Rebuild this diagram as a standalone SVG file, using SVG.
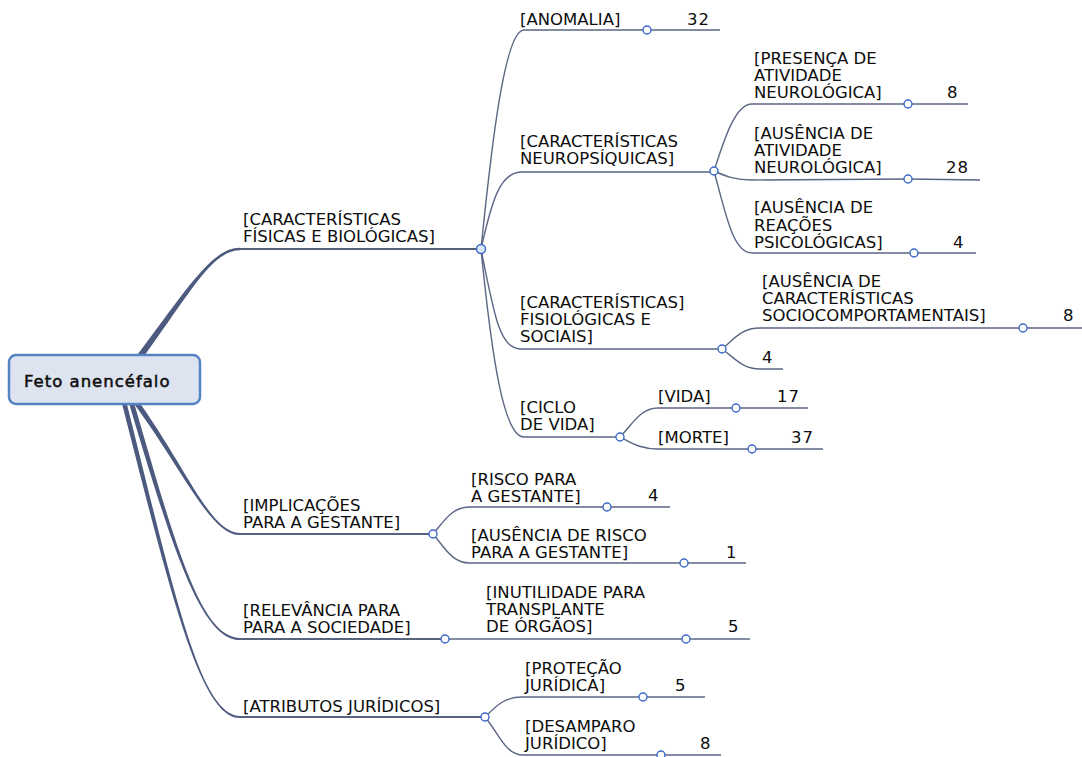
<svg xmlns="http://www.w3.org/2000/svg" width="1082" height="757" viewBox="0 0 1082 757">
<style>
text{font-family:"DejaVu Sans","Liberation Sans",sans-serif;font-size:16.5px;fill:#0d0d0d}
.ln{fill:none;stroke:#5b6684;stroke-width:1.4}
.hl{fill:none;stroke:#56627f;stroke-width:2.2}
.tp{fill:#4d5a80;stroke:none}
.dot{fill:#fff;stroke:#3b68c9;stroke-width:1.4}
.num{letter-spacing:1px}
</style>
<rect width="1082" height="757" fill="#fff"/>
<g id="connectors">
<path class="tp" d="M133.4,360.2 C187.6,288.2 212,247.6 240,247.7 L240,250.3 C212,250.4 191.4,291 138.6,363.8 Z"/>
<path class="tp" d="M135.1,396.5 C187.6,468.8 210,532.9 240,532.9 L240,535.1 C210,535.1 184.4,471.2 130.9,399.5 Z"/>
<path class="tp" d="M132.4,397.3 C174.5,541.3 200,637.9 240,637.9 L240,640.1 C200,640.1 170.7,542.5 127.6,398.7 Z"/>
<path class="tp" d="M125.3,397.4 C173.8,591.5 200,715.9 240,715.9 L240,718.1 C200,718.1 170.2,592.5 120.7,398.6 Z"/>
<path class="hl" d="M239,249 L481,249"/>
<path class="hl" d="M239,534 L433,534"/>
<path class="hl" d="M239,639 L445,639"/>
<path class="hl" d="M239,717 L485,717"/>
<path class="ln" d="M481,249 C492,140 505,30 524,30 L720,30"/>
<path class="ln" d="M481,249 C492,200 500,172 522,172 L714,172"/>
<path class="ln" d="M481,249 C495,320 500,349 522,349 L722,349"/>
<path class="ln" d="M481,249 C492,360 504,437 524,437 L620,437"/>
<path class="ln" d="M714,171 C724,140 735,104 752,104 L968,104"/>
<path class="ln" d="M714,171 C725,176 735,180 752,180 L908,179 L980,180"/>
<path class="ln" d="M714,171 C726,215 733,253 752,253 L976,253"/>
<path class="ln" d="M722,349 C735,338 742,328 760,328 L1082,328"/>
<path class="ln" d="M722,349 C735,358 742,369 760,369 L783,369"/>
<path class="ln" d="M620,437 C632,425 640,408 658,408 L808,408"/>
<path class="ln" d="M620,437 C632,443 640,449 658,449 L823,449"/>
<path class="ln" d="M433,534 C445,520 452,507 470,507 L670,507"/>
<path class="ln" d="M433,534 C445,548 452,563 470,563 L746,563"/>
<path class="ln" d="M445,639 L750,639"/>
<path class="ln" d="M485,717 C497,705 505,697 522,697 L705,697"/>
<path class="ln" d="M485,717 C500,735 505,755 524,755 L721,755"/>
</g>
<g id="root">
<rect x="9" y="355" width="191" height="49" rx="7" fill="#dde4ef" stroke="#5583c4" stroke-width="2.5"/>
<text x="24" y="387" style="letter-spacing:1px" stroke="#0d0d0d" stroke-width="0.5">Feto anencéfalo</text>
</g>
<g id="n-fisicas">
<text x="243" y="225"><tspan x="243">[CARACTERÍSTICAS</tspan><tspan x="243" dy="16.5">FÍSICAS E BIOLÓGICAS]</tspan></text>
<circle cx="481" cy="249" r="4.5" fill="#dbe6f8" stroke="#3b68c9" stroke-width="1.4"/>
</g>
<g id="n-anomalia">
<text x="520" y="25">[ANOMALIA]</text>
<circle class="dot" cx="647" cy="30" r="4"/>
<text class="num" x="687" y="25">32</text>
</g>
<g id="n-neuro">
<text x="520" y="147"><tspan x="520">[CARACTERÍSTICAS</tspan><tspan x="520" dy="17">NEUROPSÍQUICAS]</tspan></text>
<circle class="dot" cx="714" cy="171" r="4"/>
</g>
<g id="n-presenca">
<text x="754" y="64"><tspan x="754">[PRESENÇA DE</tspan><tspan x="754" dy="17">ATIVIDADE</tspan><tspan x="754" dy="17">NEUROLÓGICA]</tspan></text>
<circle class="dot" cx="908" cy="104" r="4"/>
<text class="num" x="947" y="98">8</text>
</g>
<g id="n-ausencia-ativ">
<text x="754" y="139"><tspan x="754">[AUSÊNCIA DE</tspan><tspan x="754" dy="17">ATIVIDADE</tspan><tspan x="754" dy="17">NEUROLÓGICA]</tspan></text>
<circle class="dot" cx="908" cy="179" r="4"/>
<text class="num" x="946" y="173">28</text>
</g>
<g id="n-reacoes">
<text x="754" y="213"><tspan x="754">[AUSÊNCIA DE</tspan><tspan x="754" dy="17.5">REAÇÕES</tspan><tspan x="754" dy="17.5">PSICOLÓGICAS]</tspan></text>
<circle class="dot" cx="914" cy="253" r="4"/>
<text class="num" x="953" y="248">4</text>
</g>
<g id="n-fisiologicas">
<text x="520" y="308"><tspan x="520">[CARACTERÍSTICAS]</tspan><tspan x="520" dy="17">FISIOLÓGICAS E</tspan><tspan x="520" dy="17">SOCIAIS]</tspan></text>
<circle class="dot" cx="722" cy="349" r="4"/>
</g>
<g id="n-socio">
<text x="762" y="287"><tspan x="762">[AUSÊNCIA DE</tspan><tspan x="762" dy="17">CARACTERÍSTICAS</tspan><tspan x="762" dy="17">SOCIOCOMPORTAMENTAIS]</tspan></text>
<circle class="dot" cx="1023" cy="328" r="4"/>
<text class="num" x="1063" y="321">8</text>
</g>
<g id="n-four">
<text class="num" x="762" y="363">4</text>
</g>
<g id="n-ciclo">
<text x="520" y="413"><tspan x="520">[CICLO</tspan><tspan x="520" dy="17">DE VIDA]</tspan></text>
<circle class="dot" cx="620" cy="437" r="4"/>
</g>
<g id="n-vida">
<text x="658" y="402">[VIDA]</text>
<circle class="dot" cx="736" cy="408" r="4"/>
<text class="num" x="777" y="402">17</text>
</g>
<g id="n-morte">
<text x="658" y="443">[MORTE]</text>
<circle class="dot" cx="752" cy="449" r="4"/>
<text class="num" x="791" y="443">37</text>
</g>
<g id="n-implicacoes">
<text x="243" y="511"><tspan x="243">[IMPLICAÇÕES</tspan><tspan x="243" dy="17">PARA A GESTANTE]</tspan></text>
<circle class="dot" cx="433" cy="534" r="4"/>
</g>
<g id="n-risco">
<text x="471" y="485"><tspan x="471">[RISCO PARA</tspan><tspan x="471" dy="16.5">A GESTANTE]</tspan></text>
<circle class="dot" cx="607" cy="507" r="4"/>
<text class="num" x="648" y="501">4</text>
</g>
<g id="n-sem-risco">
<text x="471" y="541"><tspan x="471">[AUSÊNCIA DE RISCO</tspan><tspan x="471" dy="17">PARA A GESTANTE]</tspan></text>
<circle class="dot" cx="684" cy="563" r="4"/>
<text class="num" x="726" y="558">1</text>
</g>
<g id="n-relevancia">
<text x="243" y="616"><tspan x="243">[RELEVÂNCIA PARA</tspan><tspan x="243" dy="17">PARA A SOCIEDADE]</tspan></text>
<circle class="dot" cx="445" cy="639" r="4"/>
</g>
<g id="n-inutilidade">
<text x="486" y="598"><tspan x="486">[INUTILIDADE PARA</tspan><tspan x="486" dy="17">TRANSPLANTE</tspan><tspan x="486" dy="17">DE ÓRGÃOS]</tspan></text>
<circle class="dot" cx="686" cy="639" r="4"/>
<text class="num" x="728" y="632">5</text>
</g>
<g id="n-atributos">
<text x="243" y="712">[ATRIBUTOS JURÍDICOS]</text>
<circle class="dot" cx="485" cy="717" r="4"/>
</g>
<g id="n-protecao">
<text x="525" y="674"><tspan x="525">[PROTEÇÃO</tspan><tspan x="525" dy="17">JURÍDICA]</tspan></text>
<circle class="dot" cx="643" cy="697" r="4"/>
<text class="num" x="675" y="691">5</text>
</g>
<g id="n-desamparo">
<text x="525" y="732"><tspan x="525">[DESAMPARO</tspan><tspan x="525" dy="17">JURÍDICO]</tspan></text>
<circle class="dot" cx="661" cy="755" r="4"/>
<text class="num" x="700" y="749">8</text>
</g>
</svg>
